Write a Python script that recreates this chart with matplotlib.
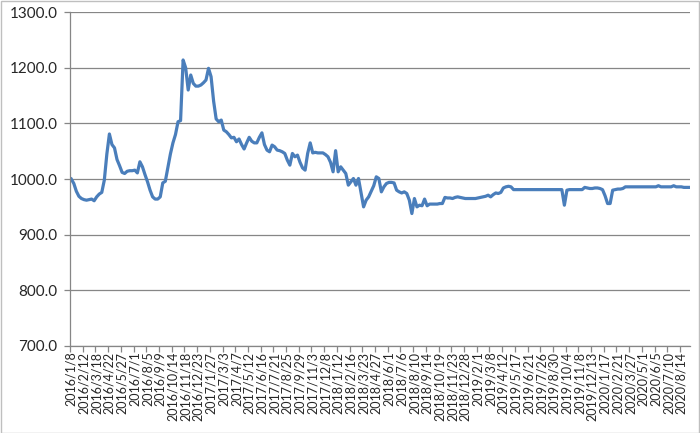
import matplotlib.pyplot as plt
from matplotlib.patches import Rectangle

# weekly values, 2016/1/8 .. 2020/9/4
values = [
    1000, 992, 978, 969, 965, 963, 962, 963, 964, 961,
    968, 973, 976, 998, 1045, 1081, 1062, 1056, 1035, 1024,
    1012, 1010, 1014, 1015, 1015, 1016, 1011, 1031, 1022, 1008,
    995, 980, 968, 964, 964, 968, 993, 996, 1020, 1045,
    1065, 1080, 1103, 1105, 1214, 1200, 1160, 1187, 1172, 1167,
    1167, 1169, 1173, 1178, 1199, 1184, 1140, 1108, 1103, 1106,
    1088, 1085, 1080, 1074, 1075, 1067, 1072, 1062, 1054, 1065,
    1075, 1068, 1065, 1065, 1075, 1083, 1062, 1052, 1049, 1061,
    1058, 1052, 1051, 1049, 1046, 1034, 1025, 1046, 1040, 1043,
    1030, 1020, 1016, 1046, 1065, 1047, 1048, 1047, 1047, 1047,
    1044, 1040, 1030, 1013, 1051, 1013, 1022, 1016, 1010, 989,
    995, 1001, 989, 1001, 975, 950, 962, 968, 978, 988,
    1004, 1001, 977, 986, 992, 994, 994, 993, 980, 977,
    975, 977, 974, 962, 938, 965, 950, 953, 952, 964,
    952, 955, 955, 955, 955, 956, 956, 967, 966, 966,
    965, 967, 968, 967, 966, 965, 965, 965, 965, 965,
    966, 967, 968, 969, 971, 968, 972, 975, 974, 976,
    984, 986, 987, 986, 981, 981, 981, 981, 981, 981,
    981, 981, 981, 981, 981, 981, 981, 981, 981, 981,
    981, 981, 981, 981, 953, 980, 981, 981, 981, 981,
    981, 981, 985, 984, 983, 983, 984, 984, 983, 981,
    970, 956, 956, 980, 981, 982, 982, 983, 986, 986,
    986, 986, 986, 986, 986, 986, 986, 986, 986, 986,
    986, 988, 986, 986, 986, 986, 986, 988, 986, 986,
    986, 985, 985, 985,
]

tick_labels = [
    "2016/1/8", "2016/2/12", "2016/3/18", "2016/4/22", "2016/5/27", "2016/7/1",
    "2016/8/5", "2016/9/9", "2016/10/14", "2016/11/18", "2016/12/23", "2017/1/27",
    "2017/3/3", "2017/4/7", "2017/5/12", "2017/6/16", "2017/7/21", "2017/8/25",
    "2017/9/29", "2017/11/3", "2017/12/8", "2018/1/12", "2018/2/16", "2018/3/23",
    "2018/4/27", "2018/6/1", "2018/7/6", "2018/8/10", "2018/9/14", "2018/10/19",
    "2018/11/23", "2018/12/28", "2019/2/1", "2019/3/8", "2019/4/12", "2019/5/17",
    "2019/6/21", "2019/7/26", "2019/8/30", "2019/10/4", "2019/11/8", "2019/12/13",
    "2020/1/17", "2020/2/21", "2020/3/27", "2020/5/1", "2020/6/5", "2020/7/10",
    "2020/8/14",
]

y_ticks = [700, 800, 900, 1000, 1100, 1200, 1300]

grey = "#868686"
txt = "#262626"

fig = plt.figure(figsize=(7, 4.33), dpi=100)
ax = fig.add_axes([0.1, 0.201, 0.886, 0.771])

n = len(values)
x = list(range(n))
ax.plot(x, values, color="#4A7EBB", linewidth=2.3, solid_joinstyle="round")

ax.set_xlim(-0.5, n - 0.5)
ax.set_ylim(700, 1300)
ax.set_yticks(y_ticks)
ax.set_yticklabels([f"{v:.1f}" for v in y_ticks], fontsize=11, color=txt, family="Lato")
ax.grid(axis="y", color=grey, linewidth=0.9)
ax.set_axisbelow(True)

pos = [i * 5 for i in range(len(tick_labels))]
ax.set_xticks(pos)
ax.set_xticklabels(tick_labels, rotation=90, fontsize=9, color=txt, family="Lato")
ax.set_xticks([p - 0.5 for p in pos], minor=True)
ax.tick_params(axis="x", which="major", length=0, pad=4)
ax.tick_params(axis="x", which="minor", length=4, color=grey, width=0.9)
ax.tick_params(axis="y", length=4, color=grey, width=0.9, pad=5)

for s in ["top", "right"]:
    ax.spines[s].set_visible(False)
for s in ["left", "bottom"]:
    ax.spines[s].set_color(grey)
    ax.spines[s].set_linewidth(0.9)

fig.patches.append(Rectangle((0.001, 0.001), 0.997, 0.997, transform=fig.transFigure,
                             fill=False, edgecolor="#bfbfbf", linewidth=1))

fig.savefig("out.png", dpi=100)
